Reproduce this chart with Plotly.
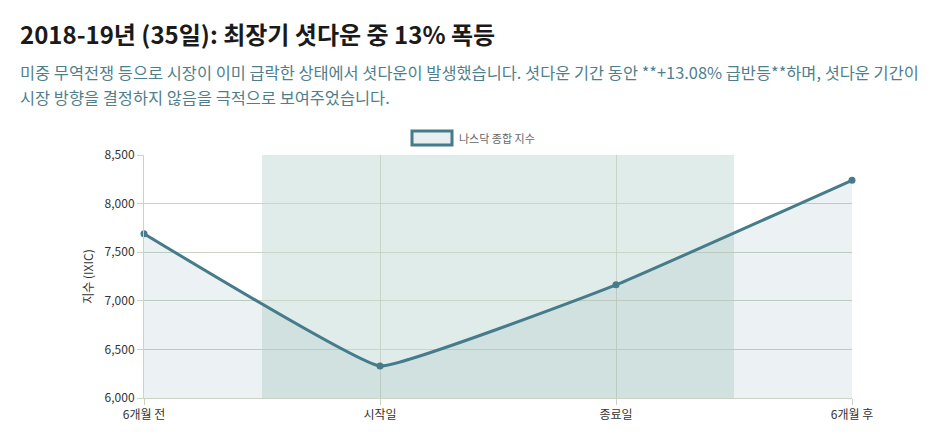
import plotly.graph_objects as go

categories = ["6개월 전", "시작일", "종료일", "6개월 후"]
values = [7690, 6329, 7164, 8240]
series_name = "나스닥 종합 지수"
title = "2018-19년 (35일): 최장기 셧다운 중 13% 폭등"
subtitle_lines = [
    "미중 무역전쟁 등으로 시장이 이미 급락한 상태에서 셧다운이 발생했습니다. 셧다운 기간 동안 **+13.08% 급반등**하며, 셧다운 기간이",
    "시장 방향을 결정하지 않음을 극적으로 보여주었습니다.",
]
y_ticks = [6000, 6500, 7000, 7500, 8000, 8500]
band_range = [0.5, 2.5]

FONT = "Noto Sans CJK KR, Noto Sans, sans-serif"
LINE = "#457b8a"
GRID = "#c9d4c6"

fig = go.Figure()
fig.add_trace(go.Scatter(
    x=list(range(len(categories))), y=values, name=series_name,
    mode="lines+markers",
    line=dict(color=LINE, width=3, shape="spline", smoothing=0.25),
    marker=dict(color=LINE, size=7),
    fill="tozeroy", fillcolor="rgba(69,123,138,0.10)",
    showlegend=False, cliponaxis=False,
))

fig.add_shape(type="rect", xref="x", yref="paper", x0=band_range[0], x1=band_range[1],
              y0=0, y1=1, fillcolor="#e0ecea", line_width=0, layer="below")

# legend box + text
fig.add_shape(type="rect", xref="paper", yref="paper",
              x0=(412-144)/708, x1=(452-144)/708, y0=(398-145)/243, y1=(398-131)/243,
              fillcolor="#e9eff1", line=dict(color=LINE, width=3))
fig.add_annotation(text=series_name, xref="paper", yref="paper",
                   x=(457-144)/708, y=(398-138)/243, xanchor="left", yanchor="middle",
                   showarrow=False, font=dict(family=FONT, size=11, color="#666"))

fig.add_annotation(text="<b>" + title + "</b>", xref="paper", yref="paper",
                   x=-126/708, y=(398-34)/243, xanchor="left", yanchor="middle",
                   showarrow=False, font=dict(family=FONT, size=24, color="#1a1a1a"))
for i, line in enumerate(subtitle_lines):
    fig.add_annotation(text=line, xref="paper", yref="paper",
                       x=-126/708, y=(398-(72+25*i))/243, xanchor="left", yanchor="middle",
                       showarrow=False, font=dict(family=FONT, size=16.4, color="#4f7f8c"))

fig.update_layout(
    width=946, height=448,
    margin=dict(l=136, r=102, t=147, b=58),
    paper_bgcolor="white", plot_bgcolor="white",
    font=dict(family=FONT, size=12, color="#444"),
    xaxis=dict(range=[0, 3], tickvals=list(range(len(categories))), ticktext=categories,
               showgrid=True, gridcolor=GRID, gridwidth=1, zeroline=False,
               showline=True, linecolor=GRID, ticks="outside", ticklen=6, tickcolor=GRID,
               tickfont=dict(size=12, color="#333")),
    yaxis=dict(range=[6000, 8500], tickvals=y_ticks, tickformat=",",
               showgrid=True, gridcolor=GRID, gridwidth=1, zeroline=False,
               showline=True, linecolor=GRID, ticks="outside", ticklen=6, tickcolor=GRID,
               tickfont=dict(size=12, color="#333"),
               title=dict(text="지수 (IXIC)", font=dict(size=12, color="#333"), standoff=8)),
)
fig.write_html("out.html")
